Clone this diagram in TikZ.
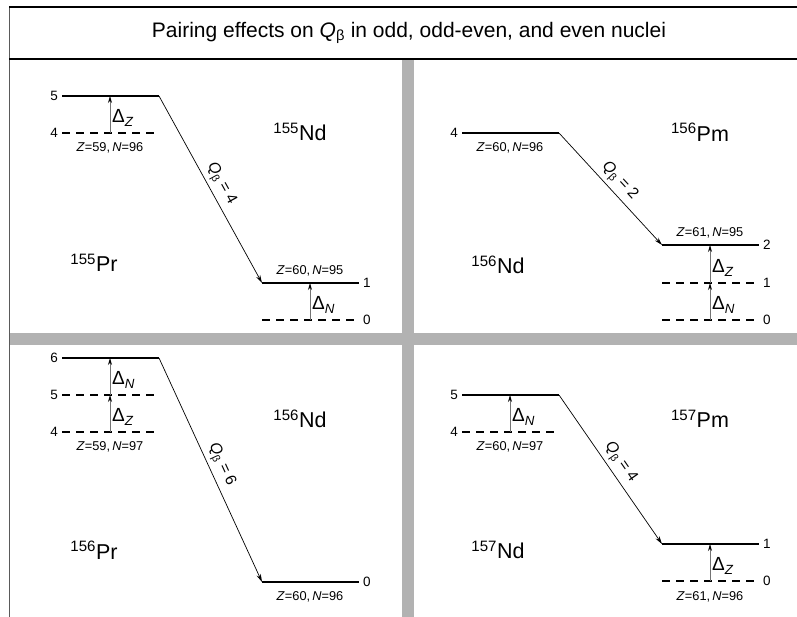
\documentclass[tikz,border=0pt]{standalone}
\usepackage{fontspec}
\setmainfont{Liberation Sans}
\usetikzlibrary{arrows.meta}
\definecolor{barg}{RGB}{178,178,178}
\definecolor{frameg}{RGB}{90,90,90}
\newcommand{\DZ}{Δ\textsubscript{\textit{Z}}}
\newcommand{\DN}{Δ\textsubscript{\textit{N}}}
\newcommand{\ZN}[2]{\textit{Z}=#1,\,\textit{N}=#2}
\newcommand{\Qb}[1]{\textit{Q}\textsubscript{β} = #1}
\begin{document}
\begin{tikzpicture}[x=1pt,y=-1pt,
  solidlvl/.style={line width=2.8pt},
  dashlvl/.style={line width=1.3pt, dash pattern=on 8pt off 6pt},
  gaparrow/.style={draw=black!55, line width=0.8pt, -{Stealth[length=7pt,width=4pt,color=black]}},
  qarrow/.style={line width=0.7pt, -{Stealth[length=8pt,width=4.5pt]}},
  numl/.style={font=\fontsize{13.5}{13.5}\selectfont, inner sep=0pt, anchor=east},
  numr/.style={font=\fontsize{13.5}{13.5}\selectfont, inner sep=0pt, anchor=west},
  znlab/.style={font=\fontsize{12.8}{13}\selectfont, inner sep=0pt},
  dlab/.style={font=\fontsize{19}{19}\selectfont, inner sep=0pt, anchor=west},
  qlab/.style={font=\fontsize{15.5}{15.5}\selectfont, midway, sloped, above, inner sep=3.5pt},
  nuc/.style={font=\fontsize{21.5}{21.5}\selectfont, inner sep=0pt},
  titlef/.style={font=\fontsize{21}{21}\selectfont, inner sep=0pt}
]
\useasboundingbox (0,0) rectangle (797,617);
% gray separators
\fill[barg] (402,59) rectangle (413.5,617);
\fill[barg] (10,333) rectangle (797,345);
% frame
\draw[frameg, line width=1.8pt] (9.5,6.5) -- (9.5,617);
\draw[line width=1.8pt] (9,7) -- (797,7);
\draw[line width=1.8pt] (9,59) -- (797,59);
\node[titlef] (title) at (409,33) {Pairing effects on \textit{Q}\textsubscript{β} in odd, odd-even, and even nuclei};

% ---------- Panel 1: 155Pr -> 155Nd ----------
\coordinate (a5l) at (62,96);  \coordinate (a5r) at (159,96);
\coordinate (a4l) at (62,133); \coordinate (a4r) at (159,133);
\coordinate (a1l) at (262,283); \coordinate (a1r) at (359,283);
\coordinate (a0l) at (262,320); \coordinate (a0r) at (359,320);
\coordinate (az0) at (110,133); \coordinate (az1) at (110,96);
\coordinate (an0) at (310,320); \coordinate (an1) at (310,283);
\draw[solidlvl] (a5l) -- (a5r);
\draw[dashlvl] (a4l) -- (a4r);
\draw[solidlvl] (a1l) -- (a1r);
\draw[dashlvl] (a0l) -- (a0r);
\node[numl] (a5n) at (58,96) {5};
\node[numl] (a4n) at (58,133) {4};
\node[numr] (a1n) at (363,283) {1};
\node[numr] (a0n) at (363,320) {0};
\draw[gaparrow] (az0) -- (az1);
\draw[gaparrow] (an0) -- (an1);
\node[dlab] (adz) at (112,118) {\DZ};
\node[dlab] (adn) at (312,305) {\DN};
\node[znlab] (azn1) at (110,148) {\ZN{59}{96}};
\node[znlab] (azn2) at (310,271) {\ZN{60}{95}};
\draw[qarrow] (a5r) -- (a1l) node[qlab] (aq) {\Qb{4}};
\node[nuc] (anuc1) at (300,132) {\textsuperscript{155}Nd};
\node[nuc] (anuc2) at (94,263) {\textsuperscript{155}Pr};

% ---------- Panel 2: 156Nd -> 156Pm ----------
\coordinate (b4l) at (462,133); \coordinate (b4r) at (559,133);
\coordinate (b2l) at (662,245); \coordinate (b2r) at (759,245);
\coordinate (b1l) at (662,283); \coordinate (b1r) at (759,283);
\coordinate (b0l) at (662,320); \coordinate (b0r) at (759,320);
\coordinate (bn0) at (710,320); \coordinate (bn1) at (710,283);
\coordinate (bz1) at (710,245);
\draw[solidlvl] (b4l) -- (b4r);
\draw[solidlvl] (b2l) -- (b2r);
\draw[dashlvl] (b1l) -- (b1r);
\draw[dashlvl] (b0l) -- (b0r);
\node[numl] (b4n) at (458,133) {4};
\node[numr] (b2n) at (763,245) {2};
\node[numr] (b1n) at (763,283) {1};
\node[numr] (b0n) at (763,320) {0};
\draw[gaparrow] (bn0) -- (bn1);
\draw[gaparrow] (bn1) -- (bz1);
\node[dlab] (bdz) at (712,268) {\DZ};
\node[dlab] (bdn) at (712,305) {\DN};
\node[znlab] (bzn1) at (510,148) {\ZN{60}{96}};
\node[znlab] (bzn2) at (710,233) {\ZN{61}{95}};
\draw[qarrow] (b4r) -- (b2l) node[qlab] (bq) {\Qb{2}};
\node[nuc] (bnuc1) at (700,132) {\textsuperscript{156}Pm};
\node[nuc] (bnuc2) at (498,265) {\textsuperscript{156}Nd};

% ---------- Panel 3: 156Pr -> 156Nd ----------
\coordinate (c6l) at (62,358); \coordinate (c6r) at (159,358);
\coordinate (c5l) at (62,395); \coordinate (c5r) at (159,395);
\coordinate (c4l) at (62,432); \coordinate (c4r) at (159,432);
\coordinate (c0l) at (262,582); \coordinate (c0r) at (359,582);
\coordinate (cz0) at (110,432); \coordinate (cz1) at (110,395);
\coordinate (cn1) at (110,358);
\draw[solidlvl] (c6l) -- (c6r);
\draw[dashlvl] (c5l) -- (c5r);
\draw[dashlvl] (c4l) -- (c4r);
\draw[solidlvl] (c0l) -- (c0r);
\node[numl] (c6n) at (58,358) {6};
\node[numl] (c5n) at (58,395) {5};
\node[numl] (c4n) at (58,432) {4};
\node[numr] (c0n) at (363,582) {0};
\draw[gaparrow] (cz0) -- (cz1);
\draw[gaparrow] (cz1) -- (cn1);
\node[dlab] (cdn) at (112,380) {\DN};
\node[dlab] (cdz) at (112,417) {\DZ};
\node[znlab] (czn1) at (110,447) {\ZN{59}{97}};
\node[znlab] (czn2) at (310,597) {\ZN{60}{96}};
\draw[qarrow] (c6r) -- (c0l) node[qlab] (cq) {\Qb{6}};
\node[nuc] (cnuc1) at (300,419) {\textsuperscript{156}Nd};
\node[nuc] (cnuc2) at (94,550) {\textsuperscript{156}Pr};

% ---------- Panel 4: 157Nd -> 157Pm ----------
\coordinate (d5l) at (462,395); \coordinate (d5r) at (559,395);
\coordinate (d4l) at (462,432); \coordinate (d4r) at (559,432);
\coordinate (d1l) at (662,544); \coordinate (d1r) at (759,544);
\coordinate (d0l) at (662,581); \coordinate (d0r) at (759,581);
\coordinate (dn0) at (510,432); \coordinate (dn1) at (510,395);
\coordinate (dz0) at (710,581); \coordinate (dz1) at (710,544);
\draw[solidlvl] (d5l) -- (d5r);
\draw[dashlvl] (d4l) -- (d4r);
\draw[solidlvl] (d1l) -- (d1r);
\draw[dashlvl] (d0l) -- (d0r);
\node[numl] (d5n) at (458,395) {5};
\node[numl] (d4n) at (458,432) {4};
\node[numr] (d1n) at (763,544) {1};
\node[numr] (d0n) at (763,581) {0};
\draw[gaparrow] (dn0) -- (dn1);
\draw[gaparrow] (dz0) -- (dz1);
\node[dlab] (ddn) at (512,417) {\DN};
\node[dlab] (ddz) at (712,566) {\DZ};
\node[znlab] (dzn1) at (510,447) {\ZN{60}{97}};
\node[znlab] (dzn2) at (710,597) {\ZN{61}{96}};
\draw[qarrow] (d5r) -- (d1l) node[qlab] (dq) {\Qb{4}};
\node[nuc] (dnuc1) at (700,419) {\textsuperscript{157}Pm};
\node[nuc] (dnuc2) at (498,550) {\textsuperscript{157}Nd};
\end{tikzpicture}
\end{document}
